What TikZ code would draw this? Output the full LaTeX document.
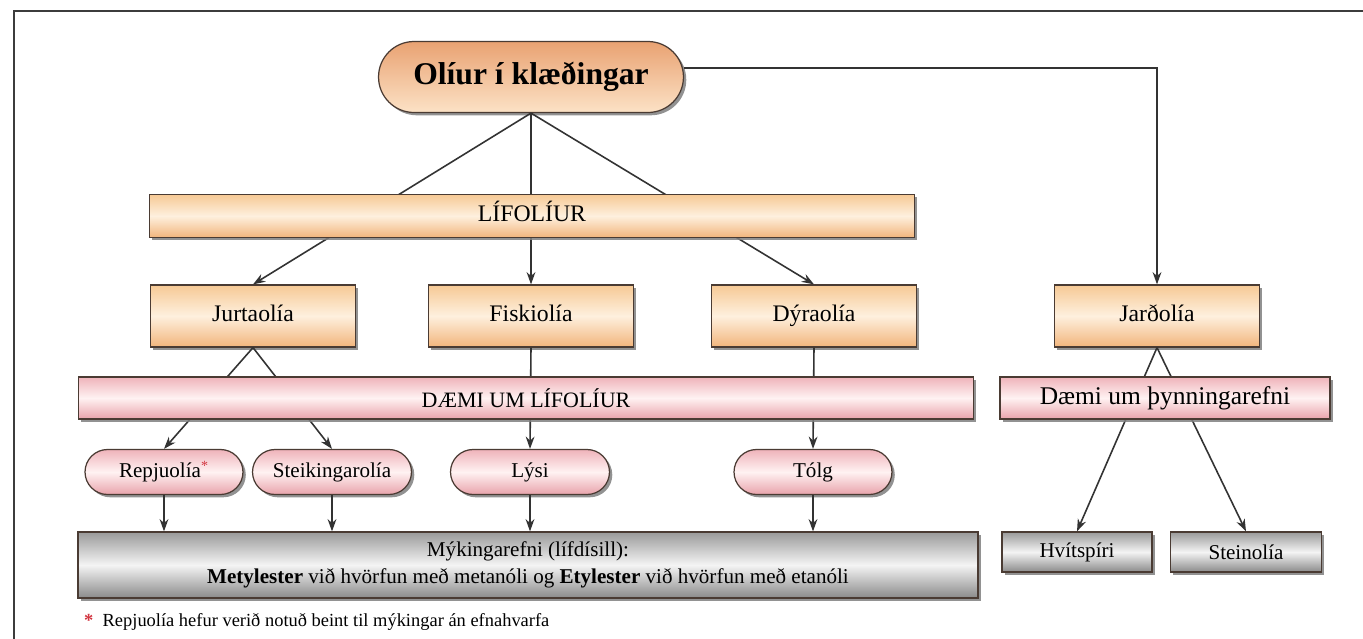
\documentclass[tikz,border=0pt]{standalone}
\usepackage{fontspec}
\setmainfont{Liberation Serif}
\usepackage{xcolor}
\usepackage{tikz}
\usetikzlibrary{arrows.meta,shapes.misc,shadows}
\definecolor{frame}{HTML}{3C3C3C}
\definecolor{edge}{HTML}{4A3B33}
\definecolor{line}{HTML}{333333}
\definecolor{ttop}{HTML}{E9A272}
\definecolor{tbot}{HTML}{FCE2C6}
\definecolor{otop}{HTML}{F6C995}
\definecolor{omid}{HTML}{FEF0DE}
\definecolor{obot}{HTML}{F2B57C}
\definecolor{ptop}{HTML}{EFB3BA}
\definecolor{pmid}{HTML}{FFF2F2}
\definecolor{pbot}{HTML}{E9A3AB}
\definecolor{gtop}{HTML}{9A9A9A}
\definecolor{gmid}{HTML}{F4F4F4}
\definecolor{gbot}{HTML}{8A8A8A}
\definecolor{star}{HTML}{D2343F}
\tikzset{
  box/.style={draw=edge, line width=0.7pt, inner sep=0pt,
    drop shadow={shadow xshift=1.6pt, shadow yshift=-1.6pt, opacity=0.85}},
  title/.style={box, rounded rectangle, top color=ttop, bottom color=tbot,
    font=\fontsize{18}{20}\selectfont\bfseries},
  obox/.style={box, top color=otop, bottom color=obot, middle color=omid,
    text height=0.7em, text depth=0.04em, font=\fontsize{13.5}{15}\selectfont},
  pbar/.style={box, top color=ptop, bottom color=pbot, middle color=pmid},
  pill/.style={pbar, rounded rectangle, minimum height=0.9cm,
    text height=0.7em, text depth=0.04em, font=\fontsize{12}{14}\selectfont},
  gbox/.style={box, top color=gtop, bottom color=gbot, middle color=gmid,
    font=\fontsize{12}{15.3}\selectfont},
  conn/.style={draw=line, line width=0.9pt, -{Stealth[length=7pt,width=5pt]}},
}

\begin{document}
\begin{tikzpicture}[x=0.02cm, y=-0.02cm]
  \useasboundingbox (0,0) rectangle (1363,639);
  \fill[white] (0,0) rectangle (1363,639);
  \draw[frame, line width=1.4pt] (1363,11) -- (14,11) -- (14,639);

  % top level
  \node[title, minimum width=6.1cm, minimum height=1.42cm] (oliur) at (531,77) {Olíur í klæðingar};

  \node[obox, minimum width=4.1cm, minimum height=1.24cm] (jurt) at (253,316) {Jurtaolía};
  \node[obox, minimum width=4.1cm, minimum height=1.24cm] (fisk) at (531,316) {Fiskiolía};
  \node[obox, minimum width=4.1cm, minimum height=1.24cm] (dyr) at (814,316) {Dýraolía};
  \node[obox, minimum width=4.1cm, minimum height=1.24cm] (jard) at (1157,316) {Jarðolía};

  \node[pill, minimum width=3.16cm] (repju) at (164,472) {Repjuolía\textsuperscript{\textcolor{star}{*}}};
  \node[pill, minimum width=3.18cm] (steik) at (332,472) {Steikingarolía};
  \node[pill, minimum width=3.18cm] (lysi) at (530,472) {Lýsi};
  \node[pill, minimum width=3.16cm] (tolg) at (813,472) {Tólg};

  \node[gbox, minimum width=18.0cm, minimum height=1.32cm, align=center] (myk) at (528,565)
    {Mýkingarefni (lífdísill):\\ \textbf{Metylester} við hvörfun með metanóli og \textbf{Etylester} við hvörfun með etanóli};
  \node[gbox, minimum width=3.0cm, minimum height=0.8cm] (hvit) at (1077,552) {Hvítspíri};
  \node[gbox, minimum width=3.02cm, minimum height=0.8cm] (stein) at (1246,552) {Steinolía};

  % connectors
  \draw[conn] ([yshift=0.18cm]oliur.east) -| (jard.north);
  \draw[conn] (oliur.south) -- (jurt.north);
  \draw[conn] (oliur.south) -- (fisk.north);
  \draw[conn] (oliur.south) -- (dyr.north);
  \draw[conn] (jurt.south) -- (repju.north);
  \draw[conn] (jurt.south) -- (steik.north);
  \draw[conn] (fisk.south) -- (lysi.north);
  \draw[conn] (dyr.south) -- (tolg.north);
  \draw[conn] (jard.south) -- (hvit.north);
  \draw[conn] (jard.south) -- (stein.north);
  \foreach \n in {repju,steik,lysi,tolg}
    \draw[conn] (\n.south) -- (\n.south |- myk.north);

  % bars over the lines
  \node[obox, minimum width=15.3cm, minimum height=0.86cm] (lif) at (532,216) {LÍFOLÍUR};
  \node[pbar, minimum width=17.9cm, minimum height=0.84cm, font=\fontsize{12.5}{14}\selectfont] (daemi) at (526,398) {DÆMI UM LÍFOLÍUR};
  \node[pbar, minimum width=6.6cm, minimum height=0.84cm, font=\fontsize{14.5}{16}\selectfont] (thyn) at (1165,398) {Dæmi um þynningarefni};

  \node[anchor=west, font=\fontsize{10.5}{12}\selectfont] (note) at (78,622)
    {\textcolor{star}{\textbf{*}}\enspace Repjuolía hefur verið notuð beint til mýkingar án efnahvarfa};
\end{tikzpicture}
\end{document}
